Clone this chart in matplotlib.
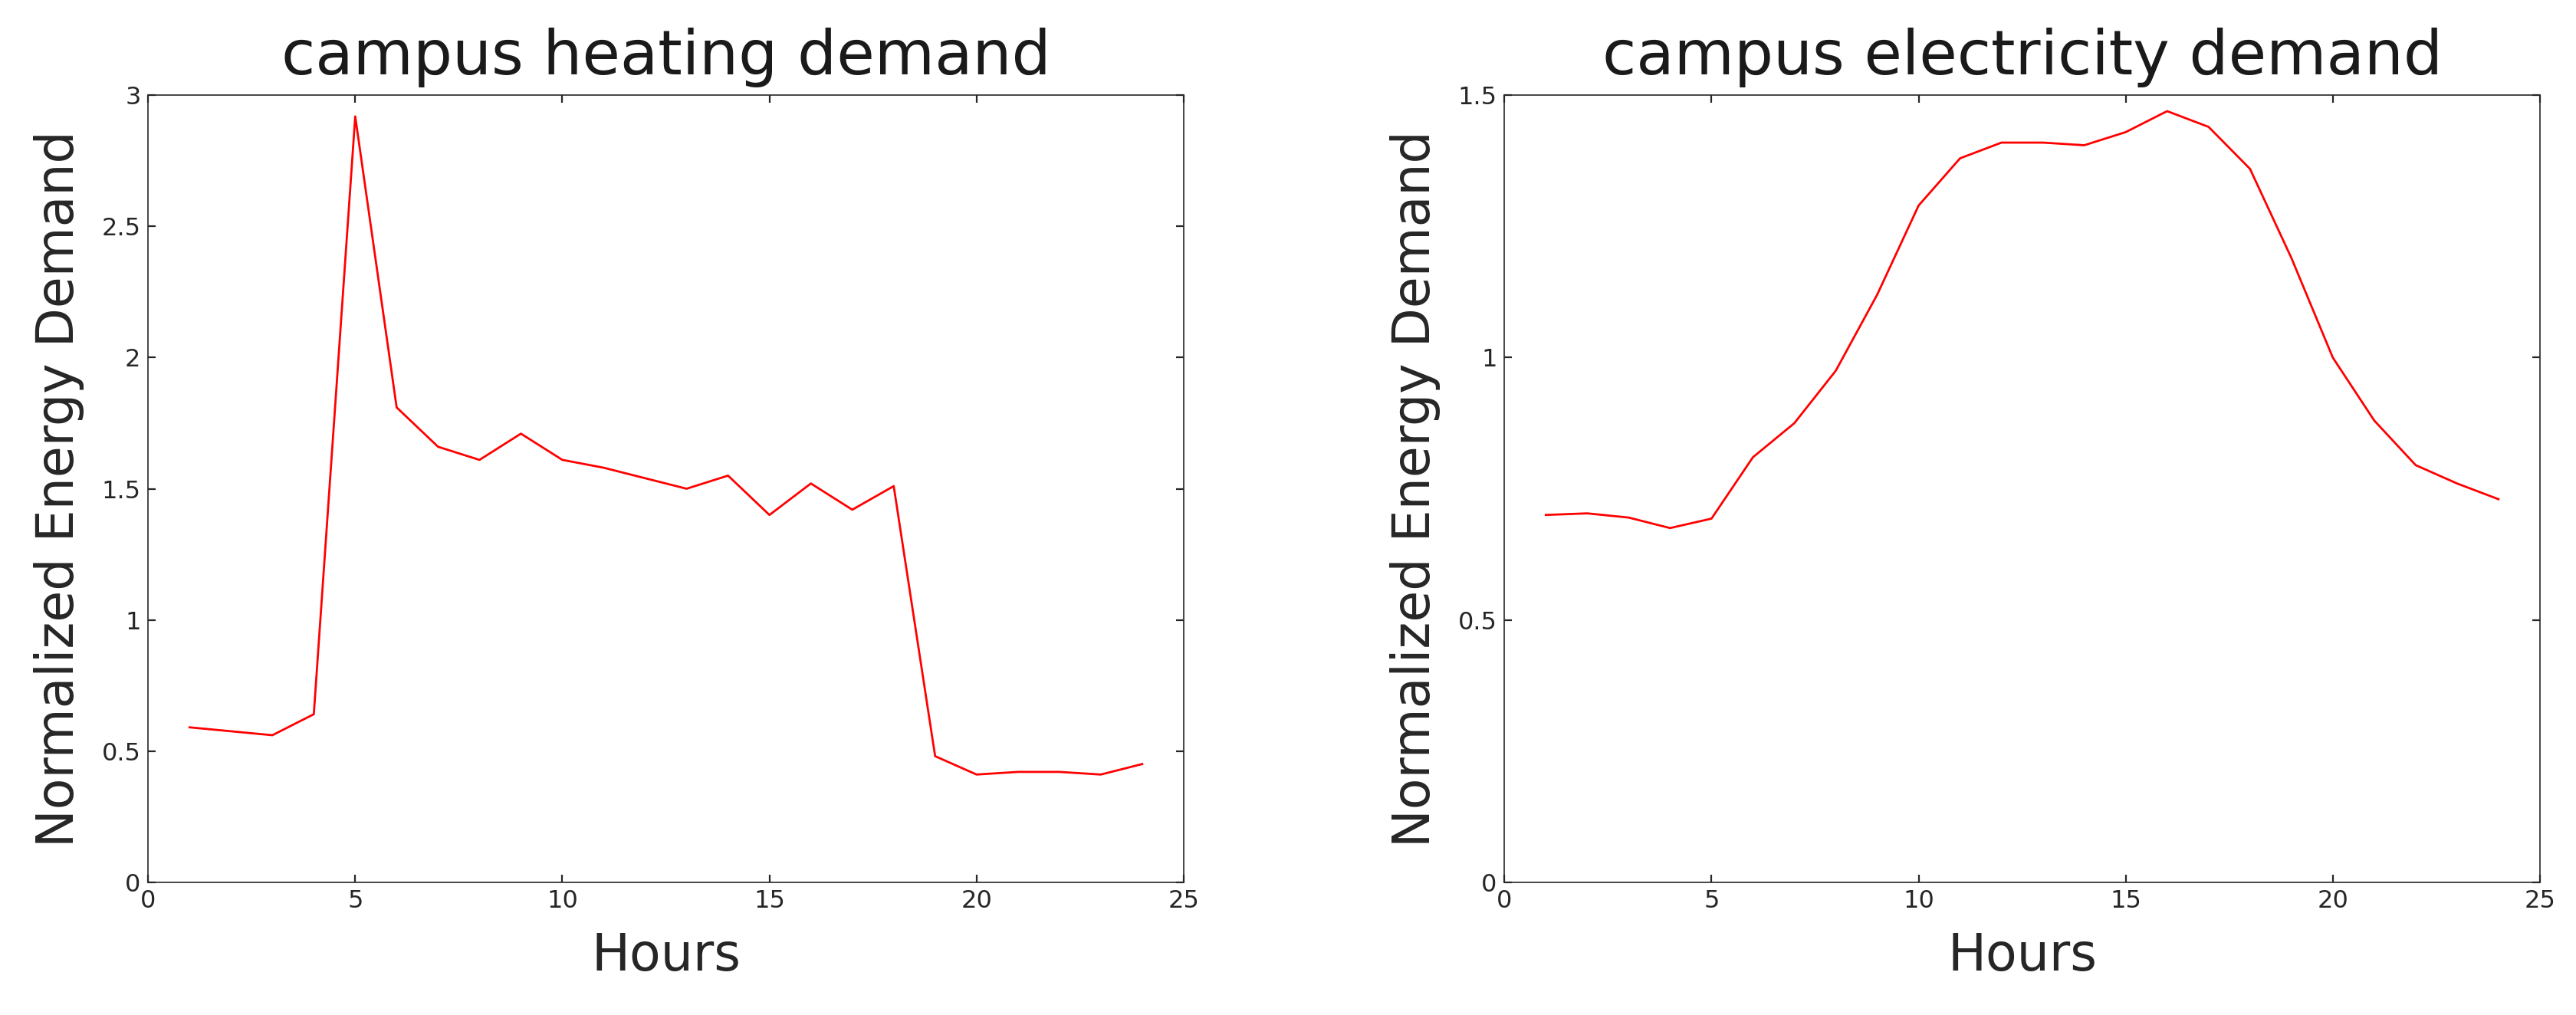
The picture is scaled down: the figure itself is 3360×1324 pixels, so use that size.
import matplotlib
matplotlib.use("Agg")
import matplotlib.pyplot as plt

hours = list(range(1, 25))
heating = [0.59, 0.575, 0.56, 0.64, 2.92, 1.81, 1.66, 1.61, 1.71, 1.61, 1.58, 1.54,
           1.50, 1.55, 1.40, 1.52, 1.42, 1.51, 0.48, 0.41, 0.42, 0.42, 0.41, 0.45]
electricity = [0.70, 0.703, 0.695, 0.675, 0.693, 0.81, 0.875, 0.975, 1.12, 1.29, 1.38, 1.41,
               1.41, 1.405, 1.43, 1.47, 1.44, 1.36, 1.19, 1.0, 0.88, 0.795, 0.76, 0.73]

fig = plt.figure(figsize=(16.8, 6.62), dpi=200)
ax1 = fig.add_axes([0.0575, 0.131, 0.402, 0.775])
ax2 = fig.add_axes([0.584, 0.131, 0.402, 0.775])

panels = [(ax1, heating, "campus heating demand", (0, 3), [0, 0.5, 1, 1.5, 2, 2.5, 3]),
          (ax2, electricity, "campus electricity demand", (0, 1.5), [0, 0.5, 1, 1.5])]

for ax, vals, title, ylim, yt in panels:
    ax.plot(hours, vals, color="red", linewidth=1)
    ax.set_xlim(0, 25)
    ax.set_ylim(*ylim)
    ax.set_yticks(yt)
    ax.set_yticklabels([f"{v:g}" for v in yt])
    ax.set_xticks([0, 5, 10, 15, 20, 25])
    ax.tick_params(direction="in", top=True, right=True, labelsize=11.5, colors="#262626")
    ax.set_title(title, fontsize=29, color="#1a1a1a", pad=10)
    ax.set_xlabel("Hours", fontsize=24, color="#262626", labelpad=8)
    ax.set_ylabel("Normalized Energy Demand", fontsize=24, color="#262626", labelpad=8)
    for s in ax.spines.values():
        s.set_color("#262626")
        s.set_linewidth(0.6)

fig.savefig("out.png")
